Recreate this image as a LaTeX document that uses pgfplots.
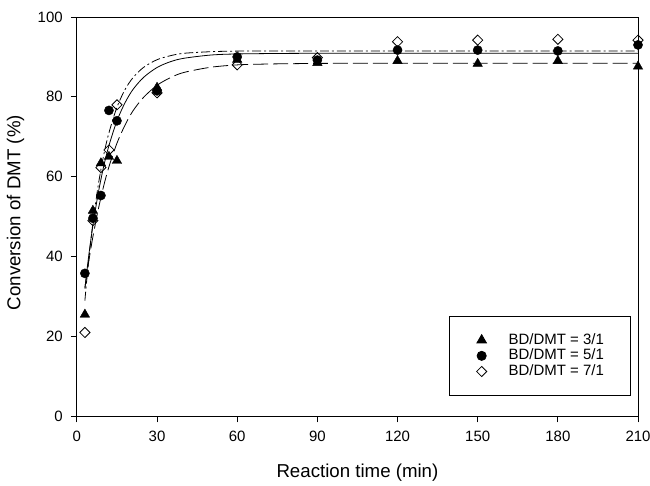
\documentclass[border=0pt]{standalone}
\usepackage{fontspec}
\setmainfont{Liberation Sans}
\usepackage{pgfplots}
\pgfplotsset{compat=1.18}
\begin{document}
\begin{tikzpicture}[x=1pt,y=1pt]
\begin{axis}[
  at={(0,0)}, anchor=south west,
  scale only axis, width=562pt, height=400pt,
  xmin=0, xmax=210, ymin=0, ymax=100,
  xtick={0,30,...,210}, ytick={0,20,...,100},
  axis line style={line width=0.8pt},
  tick style={line width=0.8pt, black},
  tick align=outside, major tick length=6pt,
  xtick pos=bottom, ytick pos=left,
  /pgf/number format/assume math mode=true,
  ticklabel style={font=\fontsize{15}{18}\selectfont},
  xticklabel style={anchor=north, inner sep=0pt, yshift=-9pt},
  yticklabel style={anchor=east, inner sep=0pt, xshift=-8pt},
  xlabel={Reaction time (min)},
  ylabel={Conversion of DMT (\%)},
  label style={font=\fontsize{18.7}{22}\selectfont},
  xlabel style={at={(axis description cs:0.5,-0.154)}, anchor=base, inner sep=0pt},
  ylabel style={at={(axis description cs:-0.1009,0.51)}, anchor=base, inner sep=0pt},
  legend style={at={(axis description cs:0.988,0.051)}, anchor=south east,
    draw=black, line width=0.8pt, inner xsep=27pt, inner ysep=17pt,
    font=\fontsize{15}{18}\selectfont, row sep=1.5pt,
    nodes={inner sep=0pt, text height=11pt, text depth=3.2pt}},
  legend cell align=left,
  legend image code/.code={\path[draw=none] (-2pt,0pt) (27pt,0pt); \path[#1, draw=none] plot[only marks] coordinates {(0pt,0pt)};},
]
% fitted curves
\addplot[forget plot, black, line width=0.8pt, smooth, dash pattern=on 15pt off 5pt] coordinates {
 (3,32.2) (4,36.9) (5,41.1) (6,45.0) (8,51.8) (10,57.6) (12,62.5) (15,68.4) (18,72.9) (21,76.5) (25,79.9) (30,82.9) (35,84.8) (40,86.1) (50,87.4) (60,88.0) (70,88.2) (80,88.3) (100,88.4) (150,88.4) (210,88.4)};
\addplot[forget plot, black, line width=0.8pt, smooth] coordinates {
 (3,32.0) (4,37.9) (5,43.1) (6,47.8) (8,55.9) (10,62.5) (12,67.8) (15,74.0) (18,78.5) (21,81.85) (25,84.9) (30,87.35) (35,88.8) (40,89.65) (50,90.46) (60,90.74) (80,90.88) (100,90.9) (150,90.9) (210,90.9)};
\addplot[forget plot, black, line width=0.8pt, smooth, dash pattern=on 9pt off 3pt on 2pt off 3pt] coordinates {
 (3,29.0) (4,36.3) (5,42.7) (6,48.4) (8,57.9) (10,65.3) (12,71.0) (15,77.4) (18,81.8) (21,84.8) (25,87.4) (30,89.3) (35,90.3) (40,90.9) (50,91.3) (60,91.45) (80,91.5) (100,91.5) (150,91.5) (210,91.5)};
% data
\addplot[only marks, mark=triangle*, mark size=5.5pt, black, mark options={fill=black}] coordinates {
 (3,25.5) (6,51.5) (9,63.4) (12,65.0) (15,64.0) (30,82.3) (60,89.3) (90,88.5) (120,89.0) (150,88.3) (180,89.0) (210,87.6)};
\addlegendentry{BD/DMT = 3/1}
\addplot[only marks, mark=*, mark size=4.6pt, black, mark options={fill=black}] coordinates {
 (3,35.8) (6,49.6) (9,55.3) (12,76.6) (15,74.0) (30,81.5) (60,90.0) (90,89.2) (120,91.7) (150,91.7) (180,91.5) (210,93.0)};
\addlegendentry{BD/DMT = 5/1}
\addplot[only marks, mark=square, mark size=3.6pt, black, mark options={fill=white, line width=0.8pt, rotate=45}] coordinates {
 (3,21.0) (6,49.0) (9,62.3) (12,66.7) (15,78.0) (30,81.0) (60,88.0) (90,89.8) (120,93.8) (150,94.2) (180,94.4) (210,94.2)};
\addlegendentry{BD/DMT = 7/1}
\end{axis}
\pgfresetboundingbox
\path[use as bounding box] (-77pt,-69pt) rectangle (574pt,417pt);
\end{tikzpicture}
\end{document}
